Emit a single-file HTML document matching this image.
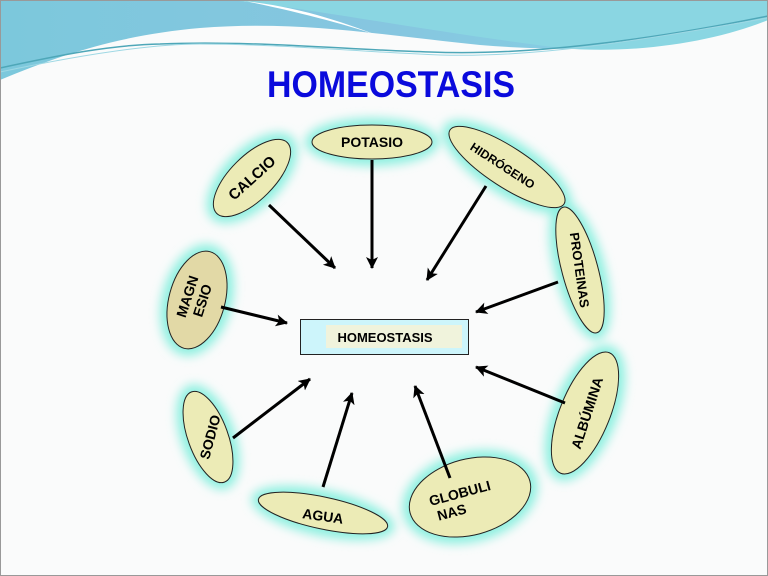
<!DOCTYPE html>
<html><head><meta charset="utf-8"><style>
html,body{margin:0;padding:0;background:#fafbfb;}
svg{display:block;}
text{font-family:"Liberation Sans",Arial,sans-serif;font-weight:bold;}
</style></head><body>
<svg width="768" height="576" viewBox="0 0 768 576" xmlns="http://www.w3.org/2000/svg">
<defs>
<filter id="glow" x="-50%" y="-50%" width="200%" height="200%">
<feGaussianBlur stdDeviation="5"/>
</filter>
<marker id="ah" markerWidth="14" markerHeight="14" refX="11" refY="6" orient="auto" markerUnits="userSpaceOnUse">
<path d="M0,0 L12,6 L0,12 L3,6 z" fill="#000"/>
</marker>
<linearGradient id="sky" x1="0" y1="0" x2="1" y2="0">
<stop offset="0" stop-color="#7cc8dc"/><stop offset="0.5" stop-color="#86c6e0"/><stop offset="1" stop-color="#86d4e4"/>
</linearGradient>
</defs>
<rect width="768" height="576" fill="#fafbfb"/>
<path d="M0,0 H768 V20 C700,45 600,55 480,45 C380,35 300,20 200,28 C120,35 60,55 0,80 Z" fill="url(#sky)"/>
<path d="M230,0 C320,10 420,30 560,48 C640,55 720,40 768,20 V0 Z" fill="#8ad6e2"/>
<path d="M232,0 C300,5 350,25 390,40 C360,28 300,12 240,0 Z" fill="#fff"/>
<path d="M0,68 C60,55 110,45 160,44 C250,40 350,50 430,52 C520,56 640,42 768,16" fill="none" stroke="#4ea7b8" stroke-width="1.5"/>
<path d="M0,72 C80,55 150,44 200,44 C280,44 360,52 440,55 C540,58 640,40 768,18" fill="none" stroke="#9ed8e4" stroke-width="1"/>
<rect x="0.5" y="0.5" width="767" height="575" fill="none" stroke="#999" stroke-width="1"/>
<text x="391" y="97" font-size="37" fill="#0a0adc" text-anchor="middle" textLength="248" lengthAdjust="spacingAndGlyphs">HOMEOSTASIS</text>

<g fill="#8ff0e0" filter="url(#glow)">
<ellipse cx="252" cy="178" rx="57" ry="29" transform="rotate(-45 252 178)"/>
<ellipse cx="372" cy="142" rx="67" ry="24"/>
<ellipse cx="507" cy="167" rx="75" ry="27" transform="rotate(33 507 167)"/>
<ellipse cx="580" cy="270" rx="72" ry="25" transform="rotate(75 580 270)"/>
<ellipse cx="197" cy="300" rx="57" ry="35" transform="rotate(-75 197 300)"/>
<ellipse cx="208" cy="437" rx="55" ry="27" transform="rotate(70 208 437)"/>
<ellipse cx="323" cy="513" rx="73" ry="23" transform="rotate(12 323 513)"/>
<ellipse cx="470" cy="497" rx="69" ry="45" transform="rotate(-15 470 497)"/>
<ellipse cx="585" cy="413" rx="72" ry="32" transform="rotate(-68 585 413)"/>
</g>
<g fill="#ecebb6" stroke="#222" stroke-width="1">
<ellipse cx="252" cy="178" rx="50" ry="22" transform="rotate(-45 252 178)"/>
<ellipse cx="372" cy="142" rx="60" ry="17"/>
<ellipse cx="507" cy="167" rx="68" ry="20" transform="rotate(33 507 167)"/>
<ellipse cx="580" cy="270" rx="65" ry="18" transform="rotate(75 580 270)"/>
<ellipse cx="197" cy="300" rx="50" ry="28" transform="rotate(-75 197 300)" fill="#e2d9a6"/>
<ellipse cx="208" cy="437" rx="48" ry="20" transform="rotate(70 208 437)"/>
<ellipse cx="323" cy="513" rx="66" ry="16" transform="rotate(12 323 513)"/>
<ellipse cx="470" cy="497" rx="62" ry="38" transform="rotate(-15 470 497)"/>
<ellipse cx="585" cy="413" rx="65" ry="25" transform="rotate(-68 585 413)"/>
</g>
<g font-size="14" fill="#000" text-anchor="middle">
<text x="252" y="183" font-size="15" transform="rotate(-42 252 178)">CALCIO</text>
<text x="372" y="147">POTASIO</text>
<text x="503" y="170" font-size="12" transform="rotate(33 503 165)">HIDRÓGENO</text>
<text x="580" y="275" font-size="13" transform="rotate(82 580 270)">PROTEINAS</text>
<text x="192" y="298" font-size="14" transform="rotate(-72 192 298)">MAGN</text>
<text x="207" y="302" font-size="14" transform="rotate(-72 207 302)">ESIO</text>
<text x="210" y="442" transform="rotate(-75 210 437)">SODIO</text>
<text x="323" y="521" transform="rotate(8 323 516)">AGUA</text>
<text x="460" y="498" transform="rotate(-15 460 494)">GLOBULI</text>
<text x="452" y="517" transform="rotate(-15 452 513)">NAS</text>
<text x="587" y="418" transform="rotate(-72 587 413)">ALBÚMINA</text>
</g>
<g stroke="#000" stroke-width="3" marker-end="url(#ah)">
<line x1="269" y1="205" x2="335" y2="268"/>
<line x1="372" y1="160" x2="372" y2="268"/>
<line x1="486" y1="186" x2="427" y2="280"/>
<line x1="558" y1="282" x2="476" y2="312"/>
<line x1="221" y1="307" x2="287" y2="323"/>
<line x1="233" y1="438" x2="310" y2="379"/>
<line x1="323" y1="487" x2="352" y2="393"/>
<line x1="450" y1="478" x2="415" y2="386"/>
<line x1="565" y1="403" x2="476" y2="367"/>
</g>
<rect x="300.5" y="319.5" width="168" height="35" fill="#cdf5fb" stroke="#222" stroke-width="1"/>
<rect x="326" y="325" width="136" height="23" fill="#f0f3dc"/>
<text x="385" y="342" font-size="13" text-anchor="middle">HOMEOSTASIS</text>
</svg>
</body></html>
